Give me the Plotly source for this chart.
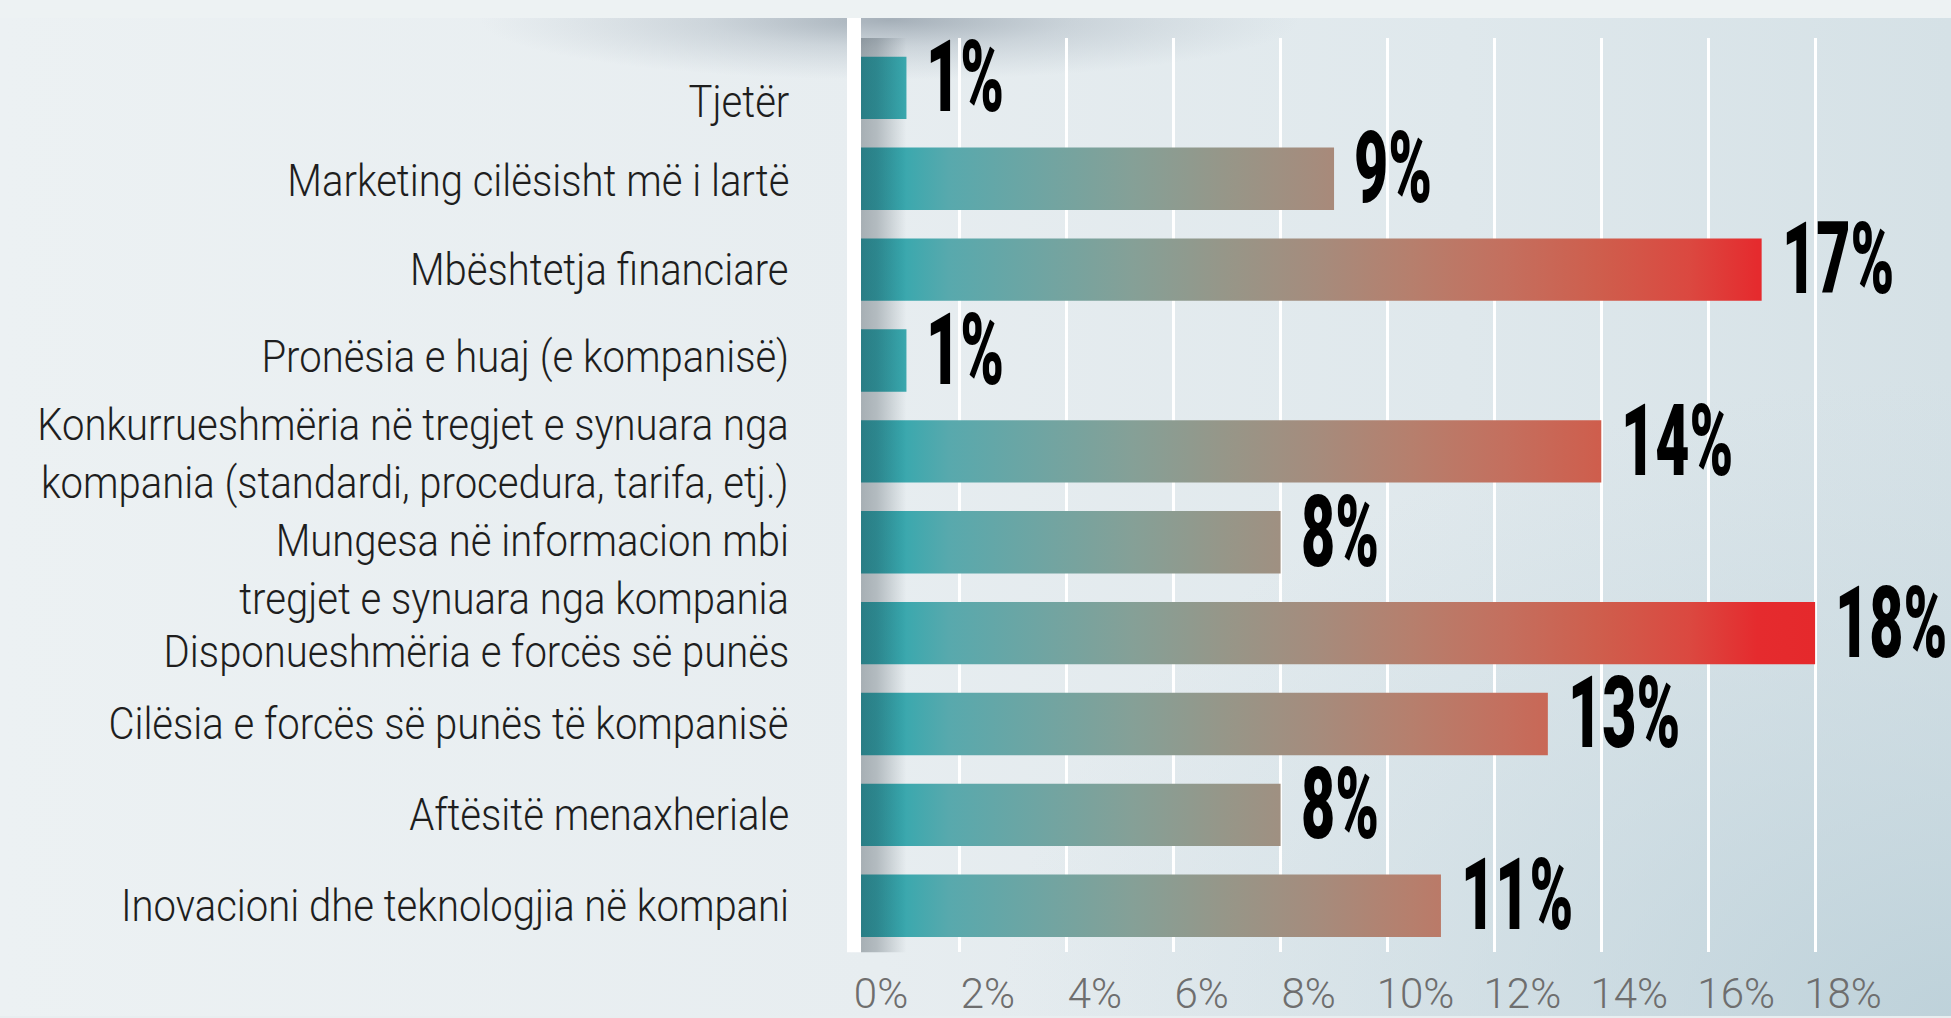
import plotly.graph_objects as go

# ---- data -------------------------------------------------------------
categories = [
    "Tjetër",
    "Marketing cilësisht më i lartë",
    "Mbështetja financiare",
    "Pronësia e huaj (e kompanisë)",
    "Konkurrueshmëria në tregjet e synuara nga<br>kompania (standardi, procedura, tarifa, etj.)",
    "Mungesa në informacion mbi<br>tregjet e synuara nga kompania",
    "Disponueshmëria e forcës së punës",
    "Cilësia e forcës së punës të kompanisë",
    "Aftësitë menaxheriale",
    "Inovacioni dhe teknologjia në kompani",
]
values = [1, 9, 17, 1, 14, 8, 18, 13, 8, 11]
tick_values = [0, 2, 4, 6, 8, 10, 12, 14, 16, 18]
tick_labels = ["0%", "2%", "4%", "6%", "8%", "10%", "12%", "14%", "16%", "18%"]

# ---- layout geometry (pixels) ------------------------------------------
W, H = 1951, 1018
X0_PX = 853            # where 0% sits
PX_PER_PCT = 53.45     # horizontal scale
PLOT_TOP, PLOT_BOTTOM = 38, 954
ROW0_PX, ROW_PX = 88, 91.06
BAR_HALF = 0.343
STRIP_H = 18
LABEL_RIGHT_PX = 791
# small vertical nudges of the category labels (px, positive = down)
label_nudge_px = [14, 2, 0, -4, 3, 28, 18, 0, 0, 0]

TEXT_FONT = "Roboto, Liberation Sans, sans-serif"
CAT_SIZE = 45
VALUE_SIZE = 100

BAR_SCALE = [
    [0.00, "#34a6ad"], [0.05, "#38a8ae"], [0.10, "#58a9ad"],
    [0.19, "#6ea5a3"], [0.29, "#85a097"], [0.39, "#979688"],
    [0.48, "#a58c7d"], [0.58, "#b67f6d"], [0.68, "#c46f5e"],
    [0.78, "#cf5d4c"], [0.87, "#db4840"], [0.94, "#e52b2e"],
    [1.00, "#e5292c"],
]

fig = go.Figure()

# ---- backdrop, drawn on a pixel-space subplot --------------------------
def rect(x0, x1, y0, y1):
    return [x0, x1, x1, x0, x0], [y0, y0, y1, y1, y0]

bx, by = rect(0, W, 0, H)
fig.add_trace(go.Scatter(
    x=bx, y=by, fill="toself", mode="lines", line=dict(width=0),
    fillgradient=dict(type="horizontal", start=0, stop=W, colorscale=[
        [0, "#ecf1f3"], [0.45, "#e7edf0"], [0.75, "#dfe8ec"], [1, "#d5e1e6"]]),
    hoverinfo="skip", xaxis="x", yaxis="y"))

gx, gy = rect(1000, 2900, 380, 1656)
fig.add_trace(go.Scatter(
    x=gx, y=gy, fill="toself", mode="lines", line=dict(width=0),
    fillgradient=dict(type="radial", colorscale=[
        [0, "rgba(186,207,216,0.85)"], [0.6, "rgba(195,213,221,0.35)"],
        [1, "rgba(200,216,224,0)"]]),
    hoverinfo="skip", xaxis="x", yaxis="y"))

sx, sy = rect(480, 1300, -40, 80)
fig.add_trace(go.Scatter(
    x=sx, y=sy, fill="toself", mode="lines", line=dict(width=0),
    fillgradient=dict(type="radial", colorscale=[
        [0, "rgba(110,124,138,0.55)"], [0.45, "rgba(125,140,155,0.25)"],
        [1, "rgba(140,155,170,0)"]]),
    hoverinfo="skip", xaxis="x", yaxis="y"))

tx, ty = rect(0, W, 0, STRIP_H)
fig.add_trace(go.Scatter(
    x=tx, y=ty, fill="toself", mode="lines", line=dict(width=0),
    fillcolor="#edf2f3", hoverinfo="skip", xaxis="x", yaxis="y"))

# ---- bars ----------------------------------------------------------------
for i, (cat, v) in enumerate(zip(categories, values)):
    fig.add_trace(go.Scatter(
        x=[0, v, v, 0, 0],
        y=[i - BAR_HALF, i - BAR_HALF, i + BAR_HALF, i + BAR_HALF, i - BAR_HALF],
        fill="toself", mode="lines", line=dict(width=0),
        fillgradient=dict(type="horizontal", start=0, stop=18, colorscale=BAR_SCALE),
        name=cat.replace("<br>", " "), text=f"{v}%", hoveron="fills",
        hoverinfo="name+text", xaxis="x2", yaxis="y2"))

# soft shadow cast by the axis line onto the bars
fig.add_trace(go.Scatter(
    x=[0.15, 1.0, 1.0, 0.15, 0.15],
    y=[-0.6, -0.6, 9.6, 9.6, -0.6],
    fill="toself", mode="lines", line=dict(width=0),
    fillgradient=dict(type="horizontal", start=0.15, stop=1.0, colorscale=[
        [0, "rgba(15,30,40,0.30)"], [0.35, "rgba(15,30,40,0.24)"],
        [1, "rgba(15,30,40,0)"]]),
    hoverinfo="skip", xaxis="x2", yaxis="y2"))

annotations = []
for i, (cat, v) in enumerate(zip(categories, values)):
    annotations.append(dict(
        text=cat, x=LABEL_RIGHT_PX, xref="x", xanchor="right", align="right",
        y=i, yref="y2", yanchor="middle", yshift=-label_nudge_px[i],
        showarrow=False,
        font=dict(family=TEXT_FONT, size=CAT_SIZE, color="#1e1e1e", weight=300)))
    annotations.append(dict(
        text=f"{v}%", x=v, xref="x2", xanchor="left", xshift=18,
        y=i, yref="y2", yanchor="middle", yshift=11, showarrow=False,
        font=dict(family=TEXT_FONT, size=VALUE_SIZE, color="#000000", weight=900)))

fig.update_layout(
    width=W, height=H,
    margin=dict(l=0, r=0, t=0, b=0, pad=0),
    paper_bgcolor="#e8eef0", plot_bgcolor="rgba(0,0,0,0)",
    showlegend=False,
    xaxis=dict(domain=[0, 1], range=[0, W], visible=False, fixedrange=True),
    yaxis=dict(domain=[0, 1], range=[H, 0], visible=False, fixedrange=True),
    xaxis2=dict(
        domain=[X0_PX / W, 1], range=[0, (W - X0_PX) / PX_PER_PCT],
        anchor="y2", tickvals=tick_values, ticktext=tick_labels,
        showgrid=True, gridcolor="#ffffff", gridwidth=3, zeroline=False,
        showline=False, ticks="", ticklabelshift=28, ticklabelstandoff=13,
        tickfont=dict(family=TEXT_FONT, size=42, color="#6e6e6e", weight=300),
        fixedrange=True),
    yaxis2=dict(
        domain=[1 - PLOT_BOTTOM / H, 1 - PLOT_TOP / H],
        range=[(PLOT_BOTTOM - ROW0_PX) / ROW_PX, (PLOT_TOP - ROW0_PX) / ROW_PX],
        anchor="x2", visible=False, showgrid=False, fixedrange=True),
    shapes=[dict(type="rect", xref="x", yref="y", x0=847, x1=861,
                 y0=STRIP_H, y1=PLOT_BOTTOM, fillcolor="#ffffff",
                 line=dict(width=0), layer="above")],
    annotations=annotations,
)

# Condensed look for the label type: squeeze the annotation glyphs
# horizontally, keeping the anchored edge in place.
condense_js = """
var gd = document.getElementById('{plot_id}');
function condenseLabels() {
  gd.querySelectorAll('text.annotation-text').forEach(function (el) {
    var fs = parseFloat(el.style.fontSize);
    var s = null, origin = null;
    if (fs >= %d) { s = 0.59; origin = 'left center'; }
    else if (fs === %d) { s = 0.89; origin = 'right center'; }
    if (s) {
      el.style.transformBox = 'fill-box';
      el.style.transformOrigin = origin;
      el.style.transform = 'scaleX(' + s + ')';
    }
  });
}
condenseLabels();
gd.on('plotly_afterplot', condenseLabels);
""" % (VALUE_SIZE, CAT_SIZE)

fig.write_html("out.html", post_script=condense_js)
